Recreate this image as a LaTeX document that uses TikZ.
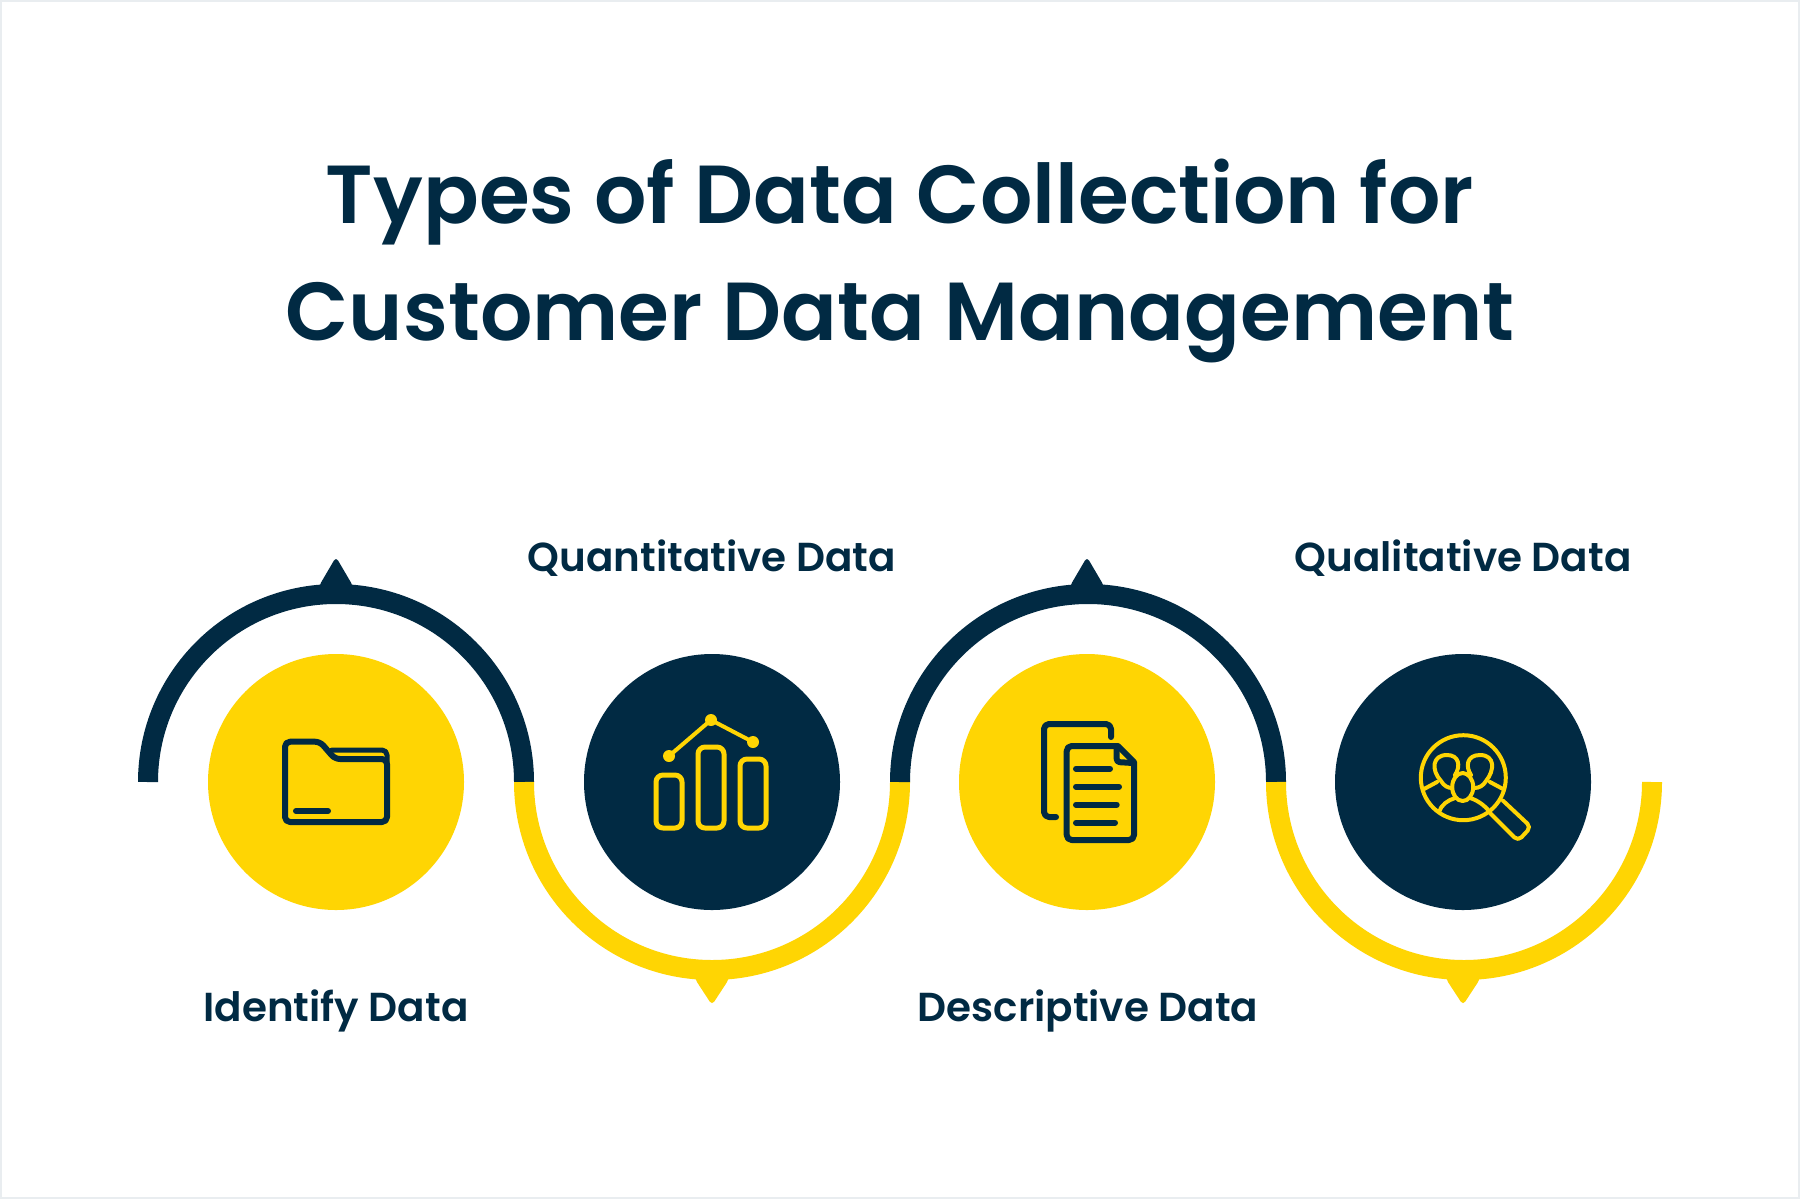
\documentclass[tikz,border=0pt]{standalone}
\usepackage{fontspec}
\setmainfont{Poppins SemiBold}
\definecolor{navy}{HTML}{012A43}
\definecolor{sun}{HTML}{FFD503}
\definecolor{edge}{HTML}{E9EDF0}
\tikzset{x=1bp,y=-1bp,
 band/.style={line width=20bp,line cap=butt},
 disc/.style={circle,minimum size=256bp,inner sep=0pt,draw=none},
 steplabel/.style={text=navy,font=\fontsize{40.6}{46}\selectfont,inner sep=0pt,anchor=base},
 titletext/.style={text=navy,font=\fontsize{82.6}{96}\selectfont,inner sep=0pt,anchor=base},
 tip/.style={line width=0pt,rounded corners=4bp},
 iconn/.style={draw=navy,line width=6bp,line cap=round,line join=round},
 icony/.style={draw=sun,line width=5bp,line cap=round,line join=round},
 iconthin/.style={draw=sun,line width=4bp,line cap=round,line join=round}}
\begin{document}
\begin{tikzpicture}
\useasboundingbox (0,0) rectangle (1800,1199);
\fill[white] (0,0) rectangle (1800,1199);
\draw[draw=edge,line width=2bp] (1,1) rectangle (1799,1198);
\node[titletext] (t1) at (900,223) {Types of Data Collection for};
\node[titletext] (t2) at (900,340) {Customer Data Management};
\node[disc,fill=sun] (c1) at (336,782) {};
\node[disc,fill=navy] (c2) at (712,782) {};
\node[disc,fill=sun] (c3) at (1087,782) {};
\node[disc,fill=navy] (c4) at (1463,782) {};
\draw[band,navy] (148,782) arc[start angle=180,end angle=0,radius=188bp];
\draw[band,sun] (524,782) arc[start angle=180,end angle=360,radius=188bp];
\draw[band,navy] (900,782) arc[start angle=180,end angle=0,radius=188bp];
\draw[band,sun] (1276,782) arc[start angle=180,end angle=360,radius=188bp];
% pointers
\fill[navy,tip] (319,592) -- (319,586) -- (336,557) -- (353,586) -- (353,592) -- cycle;
\fill[navy,tip] (1070,592) -- (1070,586) -- (1087,557) -- (1104,586) -- (1104,592) -- cycle;
\fill[sun,tip] (695,972) -- (695,979) -- (712,1005) -- (729,979) -- (729,972) -- cycle;
\fill[sun,tip] (1446,972) -- (1446,979) -- (1463,1005) -- (1480,979) -- (1480,972) -- cycle;
% labels
\node[steplabel] (l1) at (336,1021) {Identify Data};
\node[steplabel] (l2) at (712,571) {Quantitative Data};
\node[steplabel] (l3) at (1088,1021) {Descriptive Data};
\node[steplabel] (l4) at (1463,571) {Qualitative Data};
% folder
\draw[iconn,rounded corners=5bp] (285,760) -- (285,741.7) -- (320,741.7) -- (335,759) -- (387,759) -- (387,822) -- (285,822) -- cycle;
\draw[iconn,line width=5bp,rounded corners=5bp] (332,750) -- (387,750) -- (387,762);
\draw[iconn] (296,811) -- (328,811);
% chart
\draw[icony,rounded corners=7bp] (656,775) rectangle (682,828);
\draw[icony,rounded corners=7bp] (698,747) rectangle (724,828);
\draw[icony,rounded corners=7bp] (740,759) rectangle (766,828);
\draw[iconthin] (669,756) -- (711,720) -- (753,742);
\fill[sun] (669,756) circle[radius=6bp] (711,720) circle[radius=6bp] (753,742) circle[radius=6bp];
% documents
\draw[iconn,rounded corners=5bp] (1111,737) -- (1111,724) -- (1044,724) -- (1044,817) -- (1056,817);
\draw[iconn,rounded corners=5bp] (1100,746) -- (1066.7,746) -- (1066.7,840) -- (1134,840) -- (1134,770);
\draw[iconn] (1134,770) -- (1134,762) -- (1118,746) -- (1100,746);
\draw[iconn,rounded corners=3bp] (1116.7,747) -- (1116.7,762) -- (1133,763);
\draw[iconn] (1076,768.7) -- (1110,768.7);
\draw[iconn] (1076,786.7) -- (1119,786.7);
\draw[iconn] (1076,804.7) -- (1116.7,804.7);
\draw[iconn] (1076,822.7) -- (1115,822.7);
% magnifier
\draw[iconthin] (1463.3,777.7) circle[radius=42.5bp];
\draw[iconthin,rounded corners=5bp] (1503,800.7) -- (1531,827) -- (1518,841) -- (1490,813);
\draw[iconthin] (1462.7,787) ellipse[x radius=10.5bp,y radius=14bp];
\draw[iconthin] (1455,775) .. controls (1461,766) and (1459,755) .. (1447,755) .. controls (1432,755) and (1431,770) .. (1441,781) .. controls (1444,786) and (1448,788) .. (1452,788);
\draw[iconthin] (1471,775) .. controls (1465,766) and (1467,755) .. (1480,755) .. controls (1495,755) and (1495,770) .. (1486,781) .. controls (1483,786) and (1479,788) .. (1474,788);
\draw[iconthin] (1439,812) .. controls (1441,805) and (1448,800) .. (1455,798);
\draw[iconthin] (1470,798) .. controls (1477,800) and (1484,805) .. (1489,811);
\draw[iconthin] (1424,789) -- (1437,782);
\draw[iconthin] (1490,782) -- (1503,789);
\end{tikzpicture}
\end{document}
